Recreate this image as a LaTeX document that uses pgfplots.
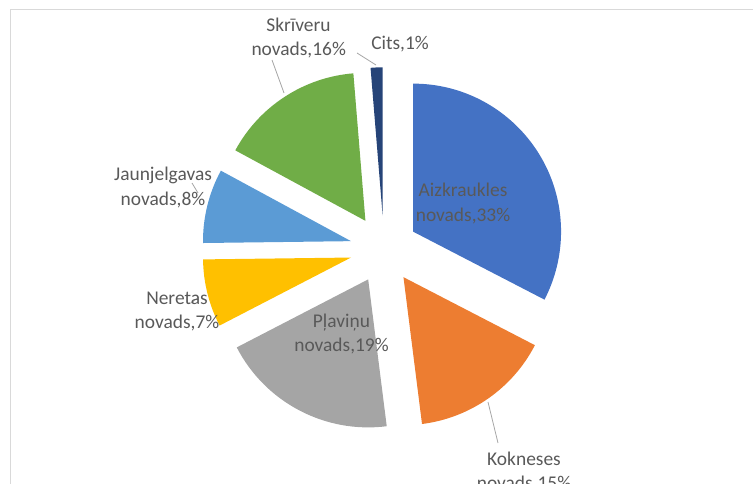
\documentclass[border=0pt]{standalone}
\usepackage{pgfplots}
\pgfplotsset{compat=1.18}
\usepackage{fontspec}
\setmainfont{Carlito}

\definecolor{cAizk}{HTML}{4472C4}
\definecolor{cKok}{HTML}{ED7D31}
\definecolor{cPlav}{HTML}{A5A5A5}
\definecolor{cNer}{HTML}{FFC000}
\definecolor{cJaun}{HTML}{5B9BD5}
\definecolor{cSkr}{HTML}{70AD47}
\definecolor{cCits}{HTML}{264478}
\definecolor{lbl}{HTML}{595959}
\definecolor{frame}{HTML}{D9D9D9}
\definecolor{leader}{HTML}{A6A6A6}

% pie geometry (axis units = bp, y up)
\def\cx{384}\def\cy{234.7}\def\R{148}\def\D{34}

% label line: x centre, baseline y measured from the top
\newcommand{\lbl}[3]{\node[anchor=base,inner sep=0pt,text=lbl] at (axis cs:#1,484-#2) {#3};}
\newcommand{\lead}[4]{\draw[leader,line width=0.8bp] (axis cs:#1,484-#2) -- (axis cs:#3,484-#4);}

\begin{document}
\begin{tikzpicture}
\useasboundingbox (0,0) rectangle (753bp,484bp);
\clip (0,0) rectangle (753bp,484bp);
\begin{axis}[scale only axis,width=753bp,height=484bp,
  xmin=0,xmax=753,ymin=0,ymax=484,hide axis,clip=false,
  font=\fontsize{19.5}{24.5}\selectfont]
% frame
\draw[frame,line width=1bp] (axis cs:10,-5) -- (axis cs:10,474) -- (axis cs:760,474);
% slices, clockwise from 12 o'clock, values in percent
\gdef\cum{0}
\foreach \v/\col in {32.6/cAizk,15.4/cKok,19.4/cPlav,7.4/cNer,8.1/cJaun,15.8/cSkr,1.3/cCits}{
  \pgfmathsetmacro\sa{90-3.6*\cum}
  \pgfmathsetmacro\ea{90-3.6*(\cum+\v)}
  \pgfmathsetmacro\ma{(\sa+\ea)/2}
  \pgfmathsetmacro\ax{\cx+\D*cos(\ma)}
  \pgfmathsetmacro\ay{\cy+\D*sin(\ma)}
  \pgfmathsetmacro\newcum{\cum+\v}
  \xdef\cum{\newcum}
  \edef\doit{\noexpand\fill[\col] (axis cs:\ax,\ay) -- ++(\sa:\R bp)
    arc[start angle=\sa, end angle=\ea, radius=\R bp] -- cycle;}
  \doit
}
% leader lines
\lead{272}{60}{284}{93}
\lead{357}{53}{376}{65}
\lead{192}{183}{198}{193}
\lead{191}{303}{199}{297}
\lead{488}{402}{498}{443}
% data labels
\lbl{298.5}{32}{Skrīveru}
\lbl{298.7}{56}{novads,16\%}
\lbl{400}{50}{Cits,1\%}
\lbl{163}{181}{Jaunjelgavas}
\lbl{163}{205.5}{novads,8\%}
\lbl{177}{305}{Neretas}
\lbl{177}{328.5}{novads,7\%}
\lbl{341.5}{328}{Pļaviņu}
\lbl{341.5}{352}{novads,19\%}
\lbl{463}{197}{Aizkraukles}
\lbl{463}{222}{novads,33\%}
\lbl{524}{465}{Kokneses}
\lbl{524}{489}{novads,15\%}
\end{axis}
\end{tikzpicture}
\end{document}
